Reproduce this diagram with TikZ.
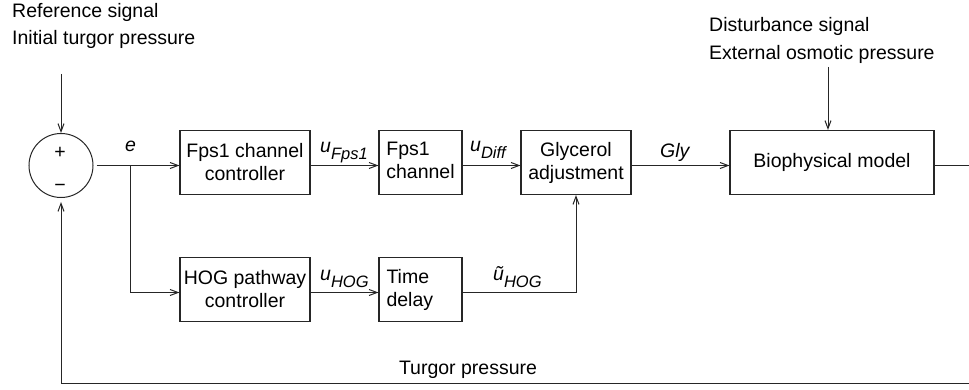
\documentclass[tikz,border=0pt]{standalone}
\usepackage{fontspec}
\setmainfont{Liberation Sans}
\usetikzlibrary{arrows.meta}
\newcommand{\lowsub}[1]{\raisebox{-7pt}{\fontsize{16.5}{16.5}\selectfont\itshape #1}}
\begin{document}
\begin{tikzpicture}[x=1pt,y=-1pt,
  every node/.style={font=\fontsize{19.5}{23}\selectfont, text=black},
  blk/.style={draw=black!85, line width=1.1pt, minimum height=64pt, inner sep=0pt, align=center},
  conn/.style={draw=black!85, line width=1pt},
  arr/.style={conn, -{Straight Barb[length=8pt,width=6pt]}},
  lbl/.style={anchor=base west, inner sep=0pt, font=\fontsize{19.5}{23}\selectfont\itshape}]
\useasboundingbox (0,0) rectangle (969,390);

% texts at the top
\node[anchor=base west, inner sep=0pt] (reft1) at (12,18) {Reference signal};
\node[anchor=base west, inner sep=0pt] (reft2) at (12,45) {Initial turgor pressure};
\node[anchor=base west, inner sep=0pt] (dist1) at (709,32) {Disturbance signal};
\node[anchor=base west, inner sep=0pt] (dist2) at (709,60) {External osmotic pressure};

% summing junction
\node[draw=black!85, line width=1pt, circle, minimum size=64pt, inner sep=0pt] (sum) at (61,165.5) {};
\node[inner sep=0pt] (plus) at (60,153) {+};
\node[inner sep=0pt] (minus) at (60,188) {−};

% blocks
\node[blk, minimum width=130pt] (fc) at (245,162.5) {Fps1 channel\\controller};
\node[blk, minimum width=83pt] (fch) at (420.5,162.5) {\begin{tabular}{@{}l@{}}Fps1\\channel\end{tabular}};
\node[blk, minimum width=110pt] (gly) at (576,162.5) {Glycerol\\adjustment};
\node[blk, minimum width=204pt] (bio) at (832,162.5) {Biophysical model};
\node[blk, minimum width=130pt] (hc) at (245,289.5) {HOG pathway\\controller};
\node[blk, minimum width=83pt, text width=68pt, align=left] (td) at (420.5,289.5) {Time\\delay};

% coordinates
\coordinate (refin) at (61,74);
\coordinate (distin) at (828,67);
\coordinate (br) at (130,165.5);
\coordinate (hl) at (0,292.5);
\coordinate (outR) at (969,165.5);
\coordinate (fbR) at (969,383);

% connectors
\draw[arr] (refin) -- (sum.north);
\draw[arr] (distin) -- (distin |- bio.north);
\draw[arr, shorten <=3pt] (sum.east) -- (sum.east -| fc.west);
\draw[arr] (br) |- (hc.west |- hl);
\draw[arr] (fc.east |- sum) -- (fch.west |- sum);
\draw[arr] (fch.east |- sum) -- (gly.west |- sum);
\draw[arr] (gly.east |- sum) -- (bio.west |- sum);
\draw[conn] (bio.east |- sum) -- (outR);
\draw[arr] (hc.east |- hl) -- (td.west |- hl);
\draw[arr] (td.east |- hl) -| (gly.south);
\draw[arr, shorten >=4pt] (fbR) -- (fbR -| sum.south) -- (sum.south);

% labels
\node[lbl] (le) at (125,152) {e};
\node[lbl] (lufps) at (320,153) {u\lowsub{Fps1}};
\node[lbl] (ludiff) at (470,152) {u\lowsub{Diff}};
\node[lbl] (lgly) at (660,158) {Gly};
\node[lbl] (luhog) at (320,280) {u\lowsub{HOG}};
\node[lbl] (lutil) at (493,280) {\~{u}\lowsub{HOG}};
\node[inner sep=0pt] (lturgor) at (468,370) {Turgor pressure};
\end{tikzpicture}
\end{document}
